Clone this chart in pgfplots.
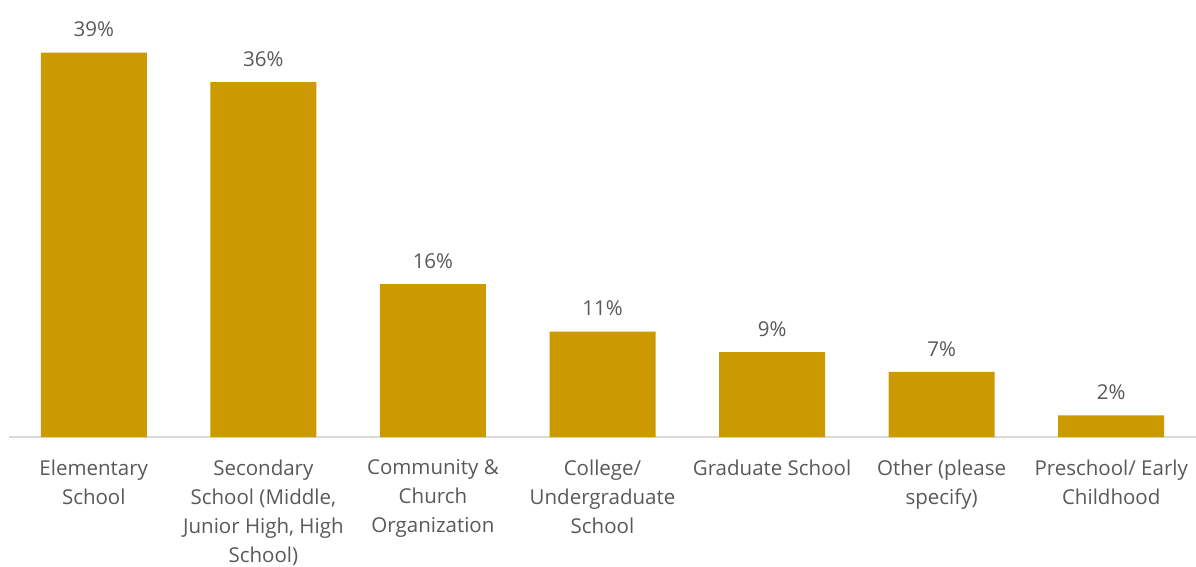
\documentclass[border=0pt]{standalone}
\usepackage{pgfplots}
\pgfplotsset{compat=1.18}
\usepackage{fontspec}
\setmainfont{Open Sans}
\definecolor{bar}{HTML}{CC9900}
\definecolor{txt}{HTML}{595959}
\definecolor{axl}{HTML}{D9D9D9}
\begin{document}
\begin{tikzpicture}
\useasboundingbox (-9pt,-130pt) rectangle (1187pt,437pt);
\begin{axis}[
  at={(0,0)}, anchor=south west,
  scale only axis,
  width=1187pt, height=414pt,
  xmin=-0.5, xmax=6.5,
  ymin=0, ymax=42,
  axis y line=none,
  axis x line*=bottom,
  x axis line style={draw=axl, line width=1.5pt, -},
  xtick={0,1,2,3,4,5,6},
  xticklabels={
    {Elementary\\School},
    {Secondary\\School (Middle,\\Junior High, High\\School)},
    {Community \&\\Church\\Organization},
    {College/\\Undergraduate\\School},
    {Graduate School},
    {Other (please\\specify)},
    {Preschool/ Early\\Childhood}},
  xtick style={draw=none},
  xticklabel style={align=center, text=txt, font=\fontsize{20.5}{29}\selectfont, anchor=north, yshift=-15pt},
  ybar, bar width=106pt,
  point meta=explicit symbolic,
  nodes near coords,
  nodes near coords style={text=txt, font=\fontsize{20.5}{24}\selectfont, anchor=south, yshift=12pt},
  clip=false,
]
\addplot[fill=bar, draw=none] coordinates {
  (0,39.0) [39\%]
  (1,36.0) [36\%]
  (2,15.5) [16\%]
  (3,10.7) [11\%]
  (4,8.6) [9\%]
  (5,6.6) [7\%]
  (6,2.2) [2\%]
};
\end{axis}
\end{tikzpicture}
\end{document}
